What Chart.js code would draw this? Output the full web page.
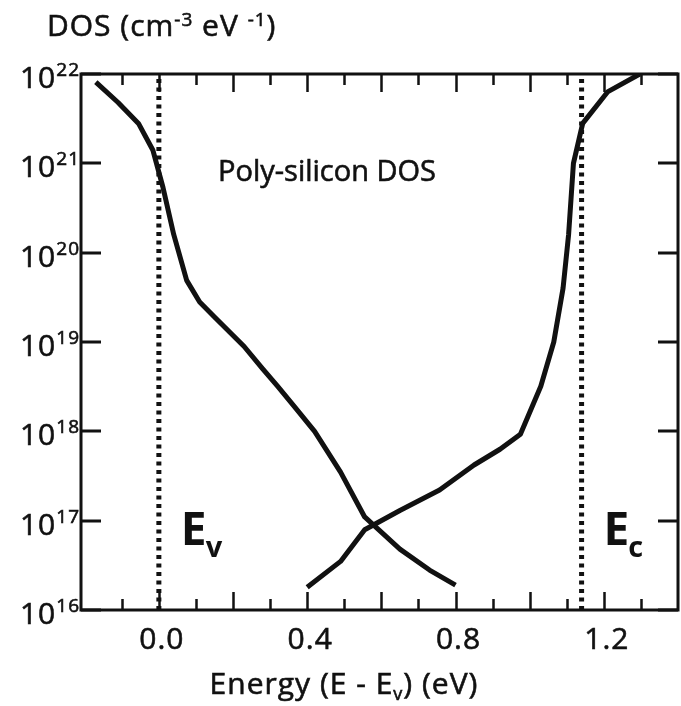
<!DOCTYPE html>
<html>
<head>
<meta charset="utf-8">
<script src="https://cdn.jsdelivr.net/npm/chart.js@4.4.1/dist/chart.umd.min.js"></script>
<style>
html, body { margin: 0; padding: 0; background: #fff; }
#wrap { width: 681px; height: 706px; }
</style>
</head>
<body>
<div id="wrap"><canvas id="dosChart" width="681" height="706"></canvas></div>
<script>
// valence band tail (left curve), energy in eV, DOS in cm-3 eV-1
const valenceEnergy = [-0.17, -0.11, -0.055, -0.016, 0.011, 0.04, 0.075, 0.11, 0.15, 0.19, 0.23, 0.28, 0.32, 0.37, 0.42, 0.49, 0.555, 0.65, 0.73, 0.80];
const valenceDos    = [8.1e21, 4.8e21, 2.8e21, 1.4e21, 5.4e20, 1.6e20, 4.9e19, 2.8e19, 1.9e19, 1.3e19, 8.9e18, 5.0e18, 3.2e18, 1.8e18, 1.0e18, 3.5e17, 1.1e17, 4.8e16, 2.8e16, 1.9e16];

// conduction band tail (right curve)
const conductionEnergy = [0.40, 0.49, 0.555, 0.65, 0.757, 0.85, 0.92, 0.975, 1.03, 1.065, 1.09, 1.105, 1.118, 1.143, 1.21, 1.297];
const conductionDos    = [1.8e16, 3.5e16, 7.9e16, 1.3e17, 2.2e17, 4.2e17, 6.3e17, 9.3e17, 3.2e18, 1.0e19, 4.0e19, 1.6e20, 1.0e21, 2.8e21, 6.3e21, 1.0e22];

// band edges (dotted lines)
const bandEdges = [0.0, 1.14];
const bandEdgeNames = ['v', 'c'];

const xTickValues = [0.0, 0.4, 0.8, 1.2];
const xTickLabels = ['0.0', '0.4', '0.8', '1.2'];
const yTickExponents = [16, 17, 18, 19, 20, 21, 22];

const FONT = '"Open Sans", "Noto Sans", sans-serif';
const INK = '#111';

function toPoints(xs, ys) {
    return xs.map((x, i) => ({x: x, y: ys[i]}));
}

// draw a row of text pieces (for super/subscripts); slight stroke for the heavier scanned look
function drawParts(ctx, parts, x, y, align, spacing) {
    ctx.letterSpacing = (spacing || 0) + 'px';
    let total = 0;
    parts.forEach(p => { ctx.font = p.font; total += ctx.measureText(p.t).width; });
    let cx = x;
    if (align === 'center') cx = x - total / 2;
    if (align === 'right') cx = x - total;
    parts.forEach(p => {
        ctx.font = p.font;
        ctx.fillText(p.t, cx, y + (p.dy || 0));
        ctx.strokeText(p.t, cx, y + (p.dy || 0));
        cx += ctx.measureText(p.t).width;
    });
    ctx.letterSpacing = '0px';
}

const framePlugin = {
    id: 'frame',
    afterDraw(chart) {
        const ctx = chart.ctx;
        const a = chart.chartArea;
        const xs = chart.scales.x;
        const ys = chart.scales.y;
        ctx.save();
        ctx.strokeStyle = INK;
        ctx.fillStyle = INK;

        // frame
        ctx.lineWidth = 3;
        ctx.strokeRect(a.left, a.top, a.right - a.left, a.bottom - a.top);

        // x ticks, inward, top and bottom
        ctx.lineWidth = 2.5;
        for (let k = -1; k <= 13; k++) {
            const px = Math.round(xs.getPixelForValue(k / 10)) + 0.5;
            const len = (k % 2 === 0) ? 18 : 11;
            ctx.beginPath();
            ctx.moveTo(px, a.bottom);
            ctx.lineTo(px, a.bottom - len);
            ctx.moveTo(px, a.top);
            ctx.lineTo(px, a.top + len);
            ctx.stroke();
        }

        // y ticks, left and right
        ctx.lineWidth = 3;
        yTickExponents.forEach(e => {
            const py = Math.round(ys.getPixelForValue(Math.pow(10, e)));
            ctx.beginPath();
            ctx.moveTo(a.left, py);
            ctx.lineTo(a.left + 20, py);
            ctx.moveTo(a.right, py);
            ctx.lineTo(a.right - 20, py);
            ctx.stroke();
        });

        ctx.lineWidth = 0.6;
        ctx.textBaseline = 'alphabetic';

        // y tick labels 10^n
        yTickExponents.forEach(e => {
            const py = ys.getPixelForValue(Math.pow(10, e));
            drawParts(ctx, [
                {t: '10', font: '30px ' + FONT, dy: 0},
                {t: String(e), font: '19px ' + FONT, dy: -12}
            ], a.left - 1, py + 14, 'right', 1);
        });

        // x tick labels
        xTickValues.forEach((v, i) => {
            drawParts(ctx, [{t: xTickLabels[i], font: '30px ' + FONT}],
                xs.getPixelForValue(v) + 3, 649, 'center', 1);
        });

        // axis titles
        drawParts(ctx, [
            {t: 'DOS (cm', font: '30px ' + FONT},
            {t: '-3', font: '19px ' + FONT, dy: -10},
            {t: ' eV ', font: '30px ' + FONT},
            {t: '-1', font: '19px ' + FONT, dy: -10},
            {t: ')', font: '30px ' + FONT}
        ], 47, 36, 'left', 1);

        drawParts(ctx, [
            {t: 'Energy (E - E', font: '30px ' + FONT},
            {t: 'v', font: '18px ' + FONT, dy: 6},
            {t: ') (eV)', font: '30px ' + FONT}
        ], 344, 694, 'center', 1);

        // in-plot annotation
        drawParts(ctx, [{t: 'Poly-silicon DOS', font: '29px ' + FONT}], 218, 181, 'left', 0);

        // band edge labels
        bandEdges.forEach((v, i) => {
            const px = xs.getPixelForValue(v);
            ctx.font = 'bold 46px ' + FONT;
            ctx.fillText('E', px + 22, 545);
            const w = ctx.measureText('E').width;
            ctx.font = 'bold 29px ' + FONT;
            ctx.fillText(bandEdgeNames[i], px + 21 + w, 557);
        });

        ctx.restore();
    }
};

new Chart(document.getElementById('dosChart'), {
    type: 'line',
    data: {
        datasets: [
            {
                label: 'valence tail',
                data: toPoints(valenceEnergy, valenceDos),
                borderColor: INK,
                borderWidth: 5,
                pointRadius: 0,
                tension: 0,
                borderJoinStyle: 'round',
                fill: false
            },
            {
                label: 'conduction tail',
                data: toPoints(conductionEnergy, conductionDos),
                borderColor: INK,
                borderWidth: 5,
                pointRadius: 0,
                tension: 0,
                borderJoinStyle: 'round',
                fill: false
            },
            ...bandEdges.map(v => ({
                label: 'edge',
                data: [{x: v, y: 1e16}, {x: v, y: 1e22}],
                borderColor: INK,
                borderWidth: 5,
                borderDash: [4, 4.5],
                borderCapStyle: 'butt',
                pointRadius: 0,
                fill: false
            }))
        ]
    },
    options: {
        responsive: false,
        animation: false,
        devicePixelRatio: 1,
        layout: {padding: {left: 81, right: 3, top: 74, bottom: 96}},
        plugins: {legend: {display: false}, tooltip: {enabled: false}},
        scales: {
            x: {type: 'linear', min: -0.21, max: 1.4, display: false},
            y: {type: 'logarithmic', min: 1e16, max: 1e22, display: false}
        }
    },
    plugins: [framePlugin]
});
</script>
</body>
</html>
